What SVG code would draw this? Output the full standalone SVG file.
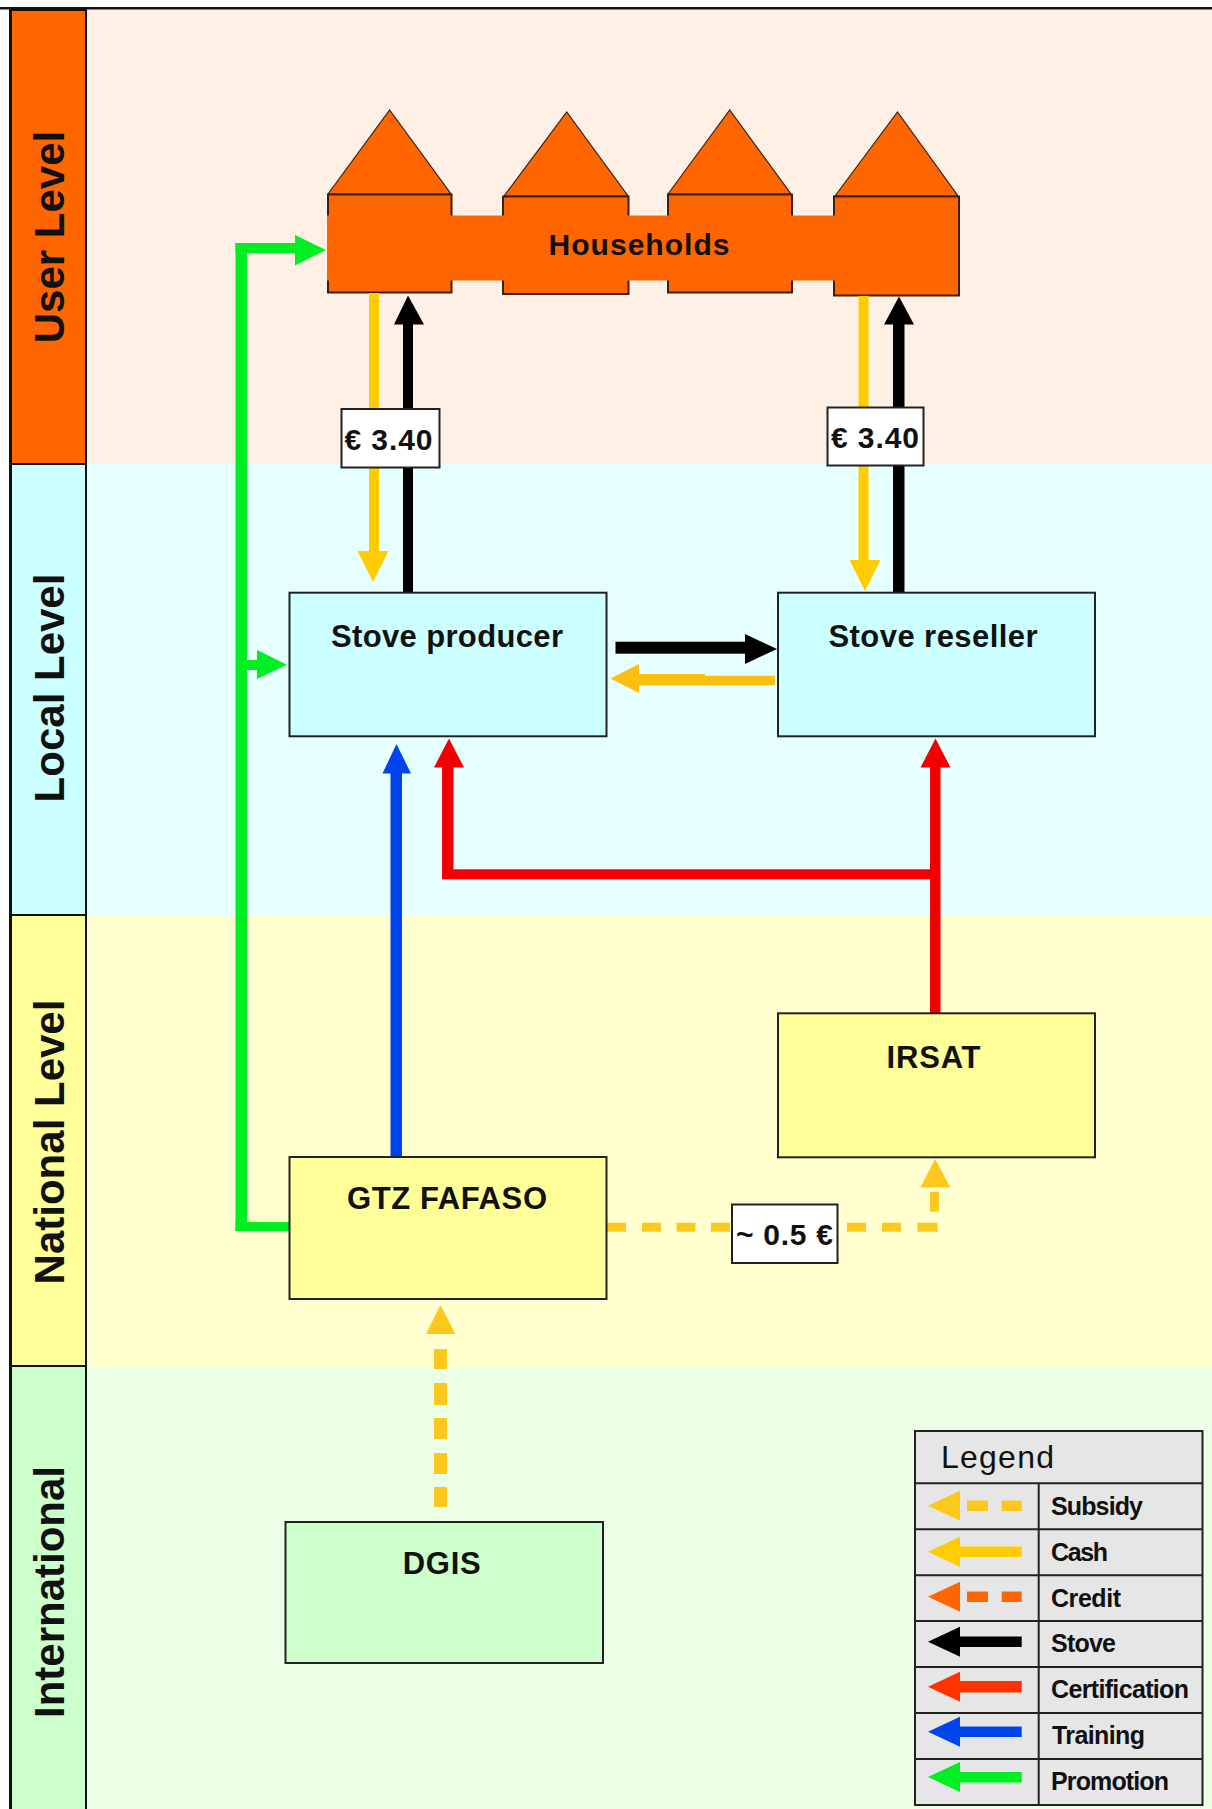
<svg xmlns="http://www.w3.org/2000/svg" width="1212" height="1809" viewBox="0 0 1212 1809">
<style>
text{font-family:"Liberation Sans",Arial,sans-serif;fill:#111}
.side{font-size:42px;font-weight:bold;text-anchor:middle}
.node{font-size:31px;font-weight:bold;text-anchor:middle}
.lab{font-size:30px;font-weight:bold}
.leg{font-size:25px;font-weight:bold}
.box{stroke:#222;stroke-width:2}
.sl{stroke:#111;stroke-width:2}
.roof{fill:#ff6600;stroke:#3a2010;stroke-width:1.2}
.h{fill:#ff6600;stroke:#3a2010;stroke-width:2}
.cash{fill:#ffcc00}.sub{fill:#fdc81e}.blk{fill:#000}.red{fill:#f00000}.blue{fill:#0044ee}.green{fill:#00ee22}
.lg{fill:#e6e6e6;stroke:#222;stroke-width:2}
</style>
<rect width="1212" height="1809" fill="#fff"/>
<g id="bands">
<rect x="86" y="9" width="1126" height="455" fill="#fff0e6"/>
<rect x="86" y="464" width="1126" height="451" fill="#e6ffff"/>
<rect x="86" y="915" width="1126" height="452" fill="#ffffcf"/>
<rect x="86" y="1367" width="1126" height="442" fill="#ebfee6"/>
</g>
<g id="frame">
<rect x="0" y="7" width="1212" height="2.5" fill="#111"/>
<rect x="9" y="8" width="2.5" height="1801" fill="#111"/>
</g>
<g id="lane-user"><rect class="sl" x="11" y="10" width="75" height="454" fill="#ff6600"/><text class="side" transform="translate(64 237) rotate(-90)">User Level</text></g>
<g id="lane-local"><rect class="sl" x="11" y="464" width="75" height="451" fill="#ccffff"/><text class="side" transform="translate(64 688) rotate(-90)">Local Level</text></g>
<g id="lane-national"><rect class="sl" x="11" y="915" width="75" height="451" fill="#ffff99"/><text class="side" transform="translate(64 1142) rotate(-90)">National Level</text></g>
<g id="lane-international"><rect class="sl" x="11" y="1366" width="75" height="445" fill="#ccffcc"/><text class="side" transform="translate(64 1592) rotate(-90)">International</text></g>
<g id="households">
<polygon class="roof" points="328,194 389.600,110 451,194"/>
<polygon class="roof" points="504,196 566.700,112 628,196"/>
<polygon class="roof" points="668,194 729.700,110 791,194"/>
<polygon class="roof" points="835,196 897.500,112 958,196"/>
<rect class="h" x="328" y="194.500" width="123.500" height="98"/>
<rect class="h" x="503" y="196.500" width="125.500" height="97.500"/>
<rect class="h" x="668" y="194.500" width="124" height="98"/>
<rect class="h" x="834" y="196.500" width="125" height="99"/>
<rect x="327" y="215.500" width="631" height="65" fill="#ff6600"/>
<text class="lab" x="639" y="254.500" text-anchor="middle" textLength="181">Households</text>
</g>
<g id="connectors">
<rect class="green" x="235.500" y="243" width="11.500" height="988"/>
<rect class="green" x="235.500" y="243" width="62" height="10.500"/>
<polygon class="green" points="295,235 326,250 295,265.500"/>
<rect class="green" x="240" y="660" width="20" height="10"/>
<polygon class="green" points="257,650 287,664.700 257,679"/>
<rect class="green" x="235.500" y="1222" width="56" height="9"/>
<rect class="cash" x="369" y="293" width="10" height="260"/>
<polygon class="cash" points="357.500,551 388.500,551 373,582"/>
<rect class="blk" x="403" y="322" width="10" height="271"/>
<polygon class="blk" points="394,324.500 408,295.500 424,324.500"/>
<rect class="cash" x="858.500" y="296" width="10" height="266"/>
<polygon class="cash" points="849.500,560 880.500,560 865,591"/>
<rect class="blk" x="893" y="322" width="11.500" height="271"/>
<polygon class="blk" points="884,324.500 899,296.500 914,324.500"/>
<rect class="blk" x="615.500" y="641.700" width="131" height="12"/>
<polygon class="blk" points="745,634 777,649 745,664"/>
<path d="M637 674H705V675.700H775V685.300H637Z" fill="#fdbf0f"/>
<polygon fill="#fdbf0f" points="639,664 610.500,678.500 639,693"/>
<rect class="blue" x="390.500" y="771" width="11.500" height="386"/>
<polygon class="blue" points="382.500,773.500 396.500,744 411,773.500"/>
<rect class="red" x="442" y="765" width="11.500" height="114"/>
<polygon class="red" points="434,767.500 449,738.500 464,767.500"/>
<rect class="red" x="442" y="869.300" width="490" height="10"/>
<rect class="red" x="930" y="765" width="10.500" height="249"/>
<polygon class="red" points="920.500,767.500 935.500,738.500 950.500,767.500"/>
<g class="sub">
<rect x="606" y="1222.700" width="20" height="9"/><rect x="642" y="1222.700" width="19" height="9"/><rect x="676.500" y="1222.700" width="19" height="9"/><rect x="711" y="1222.700" width="19" height="9"/>
<rect x="847" y="1222.700" width="19" height="9"/><rect x="882" y="1222.700" width="19" height="9"/><rect x="917.500" y="1222.700" width="20" height="9"/>
<rect x="930" y="1191.700" width="9" height="20"/>
<polygon points="920.500,1187.500 935,1159 950.500,1187.500"/>
<polygon points="426,1334 440.500,1305 455.500,1334"/>
<rect x="434" y="1349" width="13" height="20"/><rect x="434" y="1383" width="13" height="22"/><rect x="434" y="1418" width="13" height="21"/><rect x="434" y="1453" width="13" height="21"/><rect x="434" y="1487" width="13" height="20"/>
</g>
</g>
<g id="price-producer"><rect class="box" x="341.500" y="409" width="98" height="58.500" fill="#fff"/><text class="lab" x="344.500" y="449.500" textLength="88">€ 3.40</text></g>
<g id="price-reseller"><rect class="box" x="827.500" y="407.500" width="96" height="58" fill="#fff"/><text class="lab" x="831" y="448" textLength="88">€ 3.40</text></g>
<g id="price-irsat"><rect class="box" x="732" y="1204.500" width="105.500" height="58.500" fill="#fff"/><text class="lab" x="736" y="1245" textLength="97">~ 0.5 €</text></g>
<g id="stove-producer"><rect class="box" x="289.500" y="592.700" width="317" height="143.600" fill="#ccffff"/><text class="node" x="447" y="647" textLength="232">Stove producer</text></g>
<g id="stove-reseller"><rect class="box" x="778" y="592.700" width="317" height="143.600" fill="#ccffff"/><text class="node" x="933" y="647" textLength="209">Stove reseller</text></g>
<g id="irsat"><rect class="box" x="778" y="1013.300" width="317" height="144" fill="#ffff99"/><text class="node" x="933.500" y="1068" textLength="94">IRSAT</text></g>
<g id="gtz-fafaso"><rect class="box" x="289.500" y="1157" width="317" height="142" fill="#ffff99"/><text class="node" x="447" y="1209" textLength="200">GTZ FAFASO</text></g>
<g id="dgis"><rect class="box" x="285.500" y="1522" width="317.500" height="141" fill="#ccffcc"/><text class="node" x="441.700" y="1574" textLength="78">DGIS</text></g>
<g id="legend">
<rect class="lg" x="915" y="1431" width="287.500" height="374"/>
<path d="M915 1483.300H1202.500M915 1529.300H1202.500M915 1575.300H1202.500M915 1621H1202.500M915 1667H1202.500M915 1713H1202.500M915 1759H1202.500M1038.700 1483.300V1805" stroke="#222" stroke-width="2" fill="none"/>
<text x="941" y="1468.300" font-size="32" textLength="113">Legend</text>
<polygon class="sub" points="960,1490.700 928,1505.700 960,1520.700"/><rect class="sub" x="967" y="1500.500" width="21" height="10.500"/><rect class="sub" x="1001.700" y="1500.500" width="20" height="10.500"/>
<text class="leg" x="1051" y="1515" textLength="92">Subsidy</text>
<polygon class="cash" points="960,1536.700 928,1551.700 960,1566.700"/><rect class="cash" x="955" y="1546.500" width="66.700" height="10.500"/>
<text class="leg" x="1051" y="1561" textLength="57">Cash</text>
<polygon fill="#ff6600" points="960,1581.700 928,1596.700 960,1611.700"/><rect fill="#ff6600" x="967" y="1591.500" width="21" height="10.500"/><rect fill="#ff6600" x="1001.700" y="1591.500" width="20" height="10.500"/>
<text class="leg" x="1051" y="1606.700" textLength="70">Credit</text>
<polygon class="blk" points="960,1626.700 928,1641.700 960,1656.700"/><rect class="blk" x="955" y="1636.500" width="66.700" height="10.500"/>
<text class="leg" x="1051" y="1652.300" textLength="65">Stove</text>
<polygon fill="#ff3300" points="960,1671.700 928,1686.700 960,1701.700"/><rect fill="#ff3300" x="955" y="1681" width="66.700" height="11.500"/>
<text class="leg" x="1051" y="1697.700" textLength="138">Certification</text>
<polygon class="blue" points="960,1716.700 928,1731.700 960,1746.700"/><rect class="blue" x="955" y="1726.500" width="66.700" height="10.500"/>
<text class="leg" x="1052" y="1744.300" textLength="93">Training</text>
<polygon class="green" points="960,1762 928,1777 960,1792"/><rect class="green" x="955" y="1772" width="66.700" height="10.500"/>
<text class="leg" x="1051" y="1790" textLength="118">Promotion</text>
</g>
</svg>
